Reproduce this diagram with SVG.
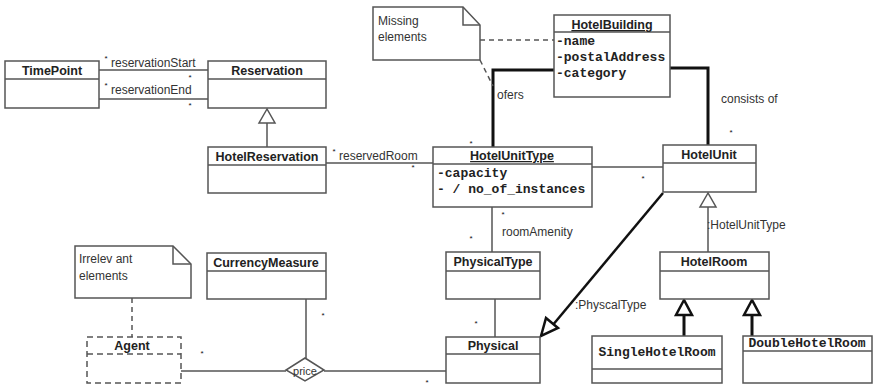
<svg xmlns="http://www.w3.org/2000/svg" width="877" height="387" viewBox="0 0 877 387">
<defs>
<style>
.box{fill:#fff;stroke:#555;stroke-width:1.5}
.sep{stroke:#555;stroke-width:1.5;fill:none}
.dbox{fill:#fff;stroke:#555;stroke-width:1.5;stroke-dasharray:6 4}
.ln{stroke:#555;stroke-width:1.5;fill:none}
.thick{stroke:#111;stroke-width:3;fill:none}
.dash{stroke:#555;stroke-width:1.5;stroke-dasharray:5 4;fill:none}
.name{font-family:"Liberation Sans",Arial,sans-serif;font-weight:bold;font-size:12.5px;fill:#222;text-anchor:middle}
.mono{font-family:"Liberation Mono","Courier New",monospace;font-weight:bold;font-size:13px;fill:#222}
.lbl{font-family:"Liberation Sans",Arial,sans-serif;font-size:12px;fill:#333}
.mul{font-family:"Liberation Sans",Arial,sans-serif;font-size:8px;fill:#111;text-anchor:middle}
.tri{fill:#fff;stroke:#555;stroke-width:1.5}
.tri2{fill:#fff;stroke:#111;stroke-width:2.5}
</style>
</defs>

<g id="connectors">
  <line class="ln" x1="99" y1="70" x2="208" y2="70"/>
  <line class="ln" x1="99" y1="99" x2="208" y2="99"/>
  <line class="ln" x1="267" y1="123" x2="267" y2="147"/>
  <polygon class="tri" points="267,109 259,123 275,123"/>
  <line class="ln" x1="326" y1="163" x2="433" y2="163"/>
  <polyline class="thick" points="554,70 493,70 493,147"/>
  <polyline class="thick" points="670,68 708,68 708,145"/>
  <line class="ln" x1="592" y1="167" x2="663" y2="167"/>
  <line class="ln" x1="492" y1="207" x2="492" y2="252"/>
  <line class="ln" x1="495" y1="299" x2="495" y2="337"/>
  <line class="ln" x1="306" y1="299" x2="306" y2="358"/>
  <line class="ln" x1="181" y1="371" x2="286" y2="371"/>
  <line class="ln" x1="324" y1="371" x2="446" y2="371"/>
  <polygon class="ln" style="fill:#fff" points="305,358 324,370 305,381 286,370"/>
  <line class="thick" style="stroke-width:2.5" x1="663" y1="193" x2="552" y2="326"/>
  <polygon class="tri2" points="541,336 546,318 558,328"/>
  <line class="ln" x1="708" y1="207" x2="708" y2="252"/>
  <polygon class="tri" points="708,193 700,207 716,207"/>
  <line class="thick" x1="684" y1="315" x2="684" y2="336"/>
  <polygon class="tri2" points="684,300 676,315 692,315"/>
  <line class="thick" x1="752" y1="315" x2="752" y2="336"/>
  <polygon class="tri2" points="752,300 744,315 760,315"/>
  <line class="dash" x1="480" y1="40" x2="554" y2="40"/>
  <line class="dash" x1="480" y1="60" x2="493" y2="86"/>
  <line class="dash" x1="132" y1="298" x2="132" y2="337"/>
  <text class="lbl" x="111" y="67">reservationStart</text>
  <text class="lbl" x="111" y="94">reservationEnd</text>
  <text class="lbl" x="339" y="160">reservedRoom</text>
  <text class="lbl" x="497" y="99">ofers</text>
  <text class="lbl" x="721" y="103">consists of</text>
  <text class="lbl" x="502" y="236">roomAmenity</text>
  <text class="lbl" x="707" y="229">:HotelUnitType</text>
  <text class="lbl" x="575" y="309">:PhyscalType</text>
  <text class="lbl" x="305" y="375" text-anchor="middle" style="font-size:11px">price</text>
  <text class="mul" x="106" y="61">*</text>
  <text class="mul" x="190" y="80">*</text>
  <text class="mul" x="106" y="88">*</text>
  <text class="mul" x="190" y="108">*</text>
  <text class="mul" x="334" y="154">*</text>
  <text class="mul" x="413" y="170">*</text>
  <text class="mul" x="471" y="146">*</text>
  <text class="mul" x="731" y="135">*</text>
  <text class="mul" x="643" y="181">*</text>
  <text class="mul" x="503" y="217">*</text>
  <text class="mul" x="471" y="241">*</text>
  <text class="mul" x="476" y="326">*</text>
  <text class="mul" x="323" y="318">*</text>
  <text class="mul" x="427" y="385">*</text>
  <text class="mul" x="202" y="356">*</text>
</g>

<g id="note-missing">
  <path class="box" d="M373,7 H463 L480,25 V60 H373 Z"/>
  <path class="sep" d="M463,7 V25 H480"/>
  <text class="lbl" x="378" y="25">Missing</text>
  <text class="lbl" x="378" y="41">elements</text>
</g>

<g id="note-irrelevant">
  <path class="box" d="M75,246 H173 L191,264 V298 H75 Z"/>
  <path class="sep" d="M173,246 V264 H191"/>
  <text class="lbl" x="79" y="263">Irrelev ant</text>
  <text class="lbl" x="79" y="280">elements</text>
</g>

<g id="TimePoint">
  <rect class="box" x="5" y="61" width="94" height="47"/>
  <line class="sep" x1="5" y1="79" x2="99" y2="79"/>
  <text class="name" x="52" y="75">TimePoint</text>
</g>

<g id="Reservation">
  <rect class="box" x="208" y="61" width="118" height="47"/>
  <line class="sep" x1="208" y1="79" x2="326" y2="79"/>
  <text class="name" x="267" y="75">Reservation</text>
</g>

<g id="HotelReservation">
  <rect class="box" x="208" y="147" width="118" height="46"/>
  <line class="sep" x1="208" y1="165" x2="326" y2="165"/>
  <text class="name" x="267" y="161">HotelReservation</text>
</g>

<g id="HotelBuilding">
  <rect class="box" x="554" y="15" width="116" height="82"/>
  <line class="sep" x1="554" y1="32" x2="670" y2="32"/>
  <text class="name" x="612" y="29" text-decoration="underline">HotelBuilding</text>
  <text class="mono" x="556" y="45">-name</text>
  <text class="mono" x="556" y="61">-postalAddress</text>
  <text class="mono" x="556" y="77">-category</text>
</g>

<g id="HotelUnitType">
  <rect class="box" x="433" y="147" width="159" height="60"/>
  <line class="sep" x1="433" y1="164" x2="592" y2="164"/>
  <text class="name" x="512" y="160" text-decoration="underline">HotelUnitType</text>
  <text class="mono" x="437" y="177">-capacity</text>
  <text class="mono" x="437" y="193">- / no_of_instances</text>
</g>

<g id="HotelUnit">
  <rect class="box" x="663" y="145" width="93" height="47"/>
  <line class="sep" x1="663" y1="163" x2="756" y2="163"/>
  <text class="name" x="709" y="159">HotelUnit</text>
</g>

<g id="CurrencyMeasure">
  <rect class="box" x="207" y="253" width="119" height="46"/>
  <line class="sep" x1="207" y1="271" x2="326" y2="271"/>
  <text class="name" x="266" y="267">CurrencyMeasure</text>
</g>

<g id="PhysicalType">
  <rect class="box" x="446" y="252" width="94" height="47"/>
  <line class="sep" x1="446" y1="271" x2="540" y2="271"/>
  <text class="name" x="493" y="266">PhysicalType</text>
</g>

<g id="Physical">
  <rect class="box" x="446" y="337" width="94" height="46"/>
  <line class="sep" x1="446" y1="354" x2="540" y2="354"/>
  <text class="name" x="493" y="350">Physical</text>
</g>

<g id="Agent">
  <rect class="dbox" x="87" y="337" width="94" height="46"/>
  <line class="dash" style="stroke-dasharray:6 4" x1="87" y1="354" x2="181" y2="354"/>
  <text class="name" x="132" y="350">Agent</text>
</g>

<g id="HotelRoom">
  <rect class="box" x="660" y="252" width="109" height="47"/>
  <line class="sep" x1="660" y1="271" x2="769" y2="271"/>
  <text class="name" x="714" y="266">HotelRoom</text>
</g>

<g id="SingleHotelRoom">
  <rect class="box" x="592" y="336" width="130" height="47"/>
  <line class="sep" x1="592" y1="369" x2="722" y2="369"/>
  <text class="mono" x="657" y="356" text-anchor="middle">SingleHotelRoom</text>
</g>

<g id="DoubleHotelRoom">
  <rect class="box" x="743" y="336" width="129" height="47"/>
  <line class="sep" x1="743" y1="351" x2="872" y2="351"/>
  <text class="mono" x="807" y="347" text-anchor="middle">DoubleHotelRoom</text>
</g>
</svg>
